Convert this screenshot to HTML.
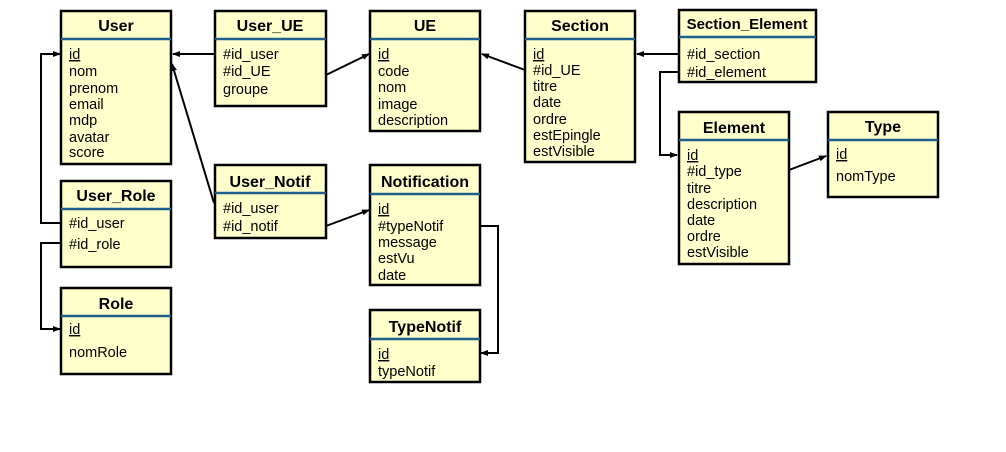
<!DOCTYPE html>
<html><head><meta charset="utf-8"><style>
html,body{margin:0;padding:0;background:#fff;}
svg{display:block;}
text{font-family:"Liberation Sans",Arial,sans-serif;font-size:14.5px;fill:#000;}
.t{font-weight:bold;font-size:16px;}
.b{fill:#FFFFCC;stroke:#000;stroke-width:2.5;}
.s{stroke:#1F5F8B;stroke-width:2.5;}
.c{stroke:#000;stroke-width:2;fill:none;}
</style></head><body>
<svg width="1006" height="452" viewBox="0 0 1006 452" xmlns="http://www.w3.org/2000/svg">
<defs><marker id="a" markerWidth="8" markerHeight="8" refX="7" refY="4" orient="auto" markerUnits="userSpaceOnUse"><path d="M0,1 L8,4 L0,7 z" fill="#000"/></marker></defs>

<!-- connectors -->
<path class="c" d="M215,54 L173,54" marker-end="url(#a)"/>
<path class="c" d="M326,75 L369,54" marker-end="url(#a)"/>
<path class="c" d="M525,70 L482,54" marker-end="url(#a)"/>
<path class="c" d="M678,54 L637,54" marker-end="url(#a)"/>
<path class="c" d="M678,72 L660,72 L660,155 L677,155" marker-end="url(#a)"/>
<path class="c" d="M789,170 L826,156" marker-end="url(#a)"/>
<path class="c" d="M214,203 L172,64" marker-end="url(#a)"/>
<path class="c" d="M326,226 L369,210" marker-end="url(#a)"/>
<path class="c" d="M480,226 L498,226 L498,353 L481,353" marker-end="url(#a)"/>
<path class="c" d="M61,223 L41,223 L41,54 L60,54" marker-end="url(#a)"/>
<path class="c" d="M61,243 L41,243 L41,329 L60,329" marker-end="url(#a)"/>

<!-- User -->
<rect class="b" x="61" y="11" width="110" height="153"/><line class="s" x1="61" y1="39" x2="171" y2="39"/>
<text class="t" x="116" y="31" text-anchor="middle">User</text>
<text x="69" y="59"><tspan text-decoration="underline">id</tspan></text>
<text x="69" y="76">nom</text><text x="69" y="93">prenom</text><text x="69" y="109">email</text>
<text x="69" y="125">mdp</text><text x="69" y="142">avatar</text><text x="69" y="157">score</text>

<!-- User_UE -->
<rect class="b" x="215" y="11" width="111" height="95"/><line class="s" x1="215" y1="39" x2="326" y2="39"/>
<text class="t" x="270" y="31" text-anchor="middle">User_UE</text>
<text x="223" y="59">#id_user</text><text x="223" y="76">#id_UE</text><text x="223" y="94">groupe</text>

<!-- UE -->
<rect class="b" x="370" y="11" width="110" height="120"/><line class="s" x1="370" y1="39" x2="480" y2="39"/>
<text class="t" x="425" y="31" text-anchor="middle">UE</text>
<text x="378" y="59"><tspan text-decoration="underline">id</tspan></text>
<text x="378" y="76">code</text><text x="378" y="92">nom</text><text x="378" y="109">image</text><text x="378" y="125">description</text>

<!-- Section -->
<rect class="b" x="525" y="11" width="110" height="151"/><line class="s" x1="525" y1="39" x2="635" y2="39"/>
<text class="t" x="580" y="31" text-anchor="middle">Section</text>
<text x="533" y="59"><tspan text-decoration="underline">id</tspan></text>
<text x="533" y="75">#id_UE</text><text x="533" y="91">titre</text><text x="533" y="107">date</text>
<text x="533" y="124">ordre</text><text x="533" y="140">estEpingle</text><text x="533" y="156">estVisible</text>

<!-- Section_Element -->
<rect class="b" x="679" y="10" width="137" height="72"/><line class="s" x1="679" y1="37" x2="816" y2="37"/>
<text class="t" x="747" y="29" text-anchor="middle" style="font-size:15px">Section_Element</text>
<text x="687" y="59">#id_section</text><text x="687" y="77">#id_element</text>

<!-- Element -->
<rect class="b" x="679" y="112" width="110" height="152"/><line class="s" x1="679" y1="140" x2="789" y2="140"/>
<text class="t" x="734" y="133" text-anchor="middle">Element</text>
<text x="687" y="160"><tspan text-decoration="underline">id</tspan></text>
<text x="687" y="176">#id_type</text><text x="687" y="193">titre</text><text x="687" y="209">description</text>
<text x="687" y="225">date</text><text x="687" y="241">ordre</text><text x="687" y="257">estVisible</text>

<!-- Type -->
<rect class="b" x="828" y="112" width="110" height="85"/><line class="s" x1="828" y1="140" x2="938" y2="140"/>
<text class="t" x="883" y="132" text-anchor="middle">Type</text>
<text x="836" y="159"><tspan text-decoration="underline">id</tspan></text>
<text x="836" y="181">nomType</text>

<!-- User_Role -->
<rect class="b" x="61" y="181" width="110" height="86"/><line class="s" x1="61" y1="209" x2="171" y2="209"/>
<text class="t" x="116" y="201" text-anchor="middle">User_Role</text>
<text x="69" y="228">#id_user</text><text x="69" y="249">#id_role</text>

<!-- User_Notif -->
<rect class="b" x="215" y="165" width="111" height="73"/><line class="s" x1="215" y1="193" x2="326" y2="193"/>
<text class="t" x="270" y="187" text-anchor="middle">User_Notif</text>
<text x="223" y="213">#id_user</text><text x="223" y="231">#id_notif</text>

<!-- Notification -->
<rect class="b" x="370" y="165" width="110" height="120"/><line class="s" x1="370" y1="194" x2="480" y2="194"/>
<text class="t" x="425" y="187" text-anchor="middle">Notification</text>
<text x="378" y="214"><tspan text-decoration="underline">id</tspan></text>
<text x="378" y="231">#typeNotif</text><text x="378" y="247">message</text><text x="378" y="263">estVu</text><text x="378" y="280">date</text>

<!-- TypeNotif -->
<rect class="b" x="370" y="310" width="110" height="72"/><line class="s" x1="370" y1="339" x2="480" y2="339"/>
<text class="t" x="425" y="332" text-anchor="middle">TypeNotif</text>
<text x="378" y="359"><tspan text-decoration="underline">id</tspan></text>
<text x="378" y="376">typeNotif</text>

<!-- Role -->
<rect class="b" x="61" y="288" width="110" height="86"/><line class="s" x1="61" y1="316" x2="171" y2="316"/>
<text class="t" x="116" y="309" text-anchor="middle">Role</text>
<text x="69" y="334"><tspan text-decoration="underline">id</tspan></text>
<text x="69" y="357">nomRole</text>
</svg>
</body></html>
